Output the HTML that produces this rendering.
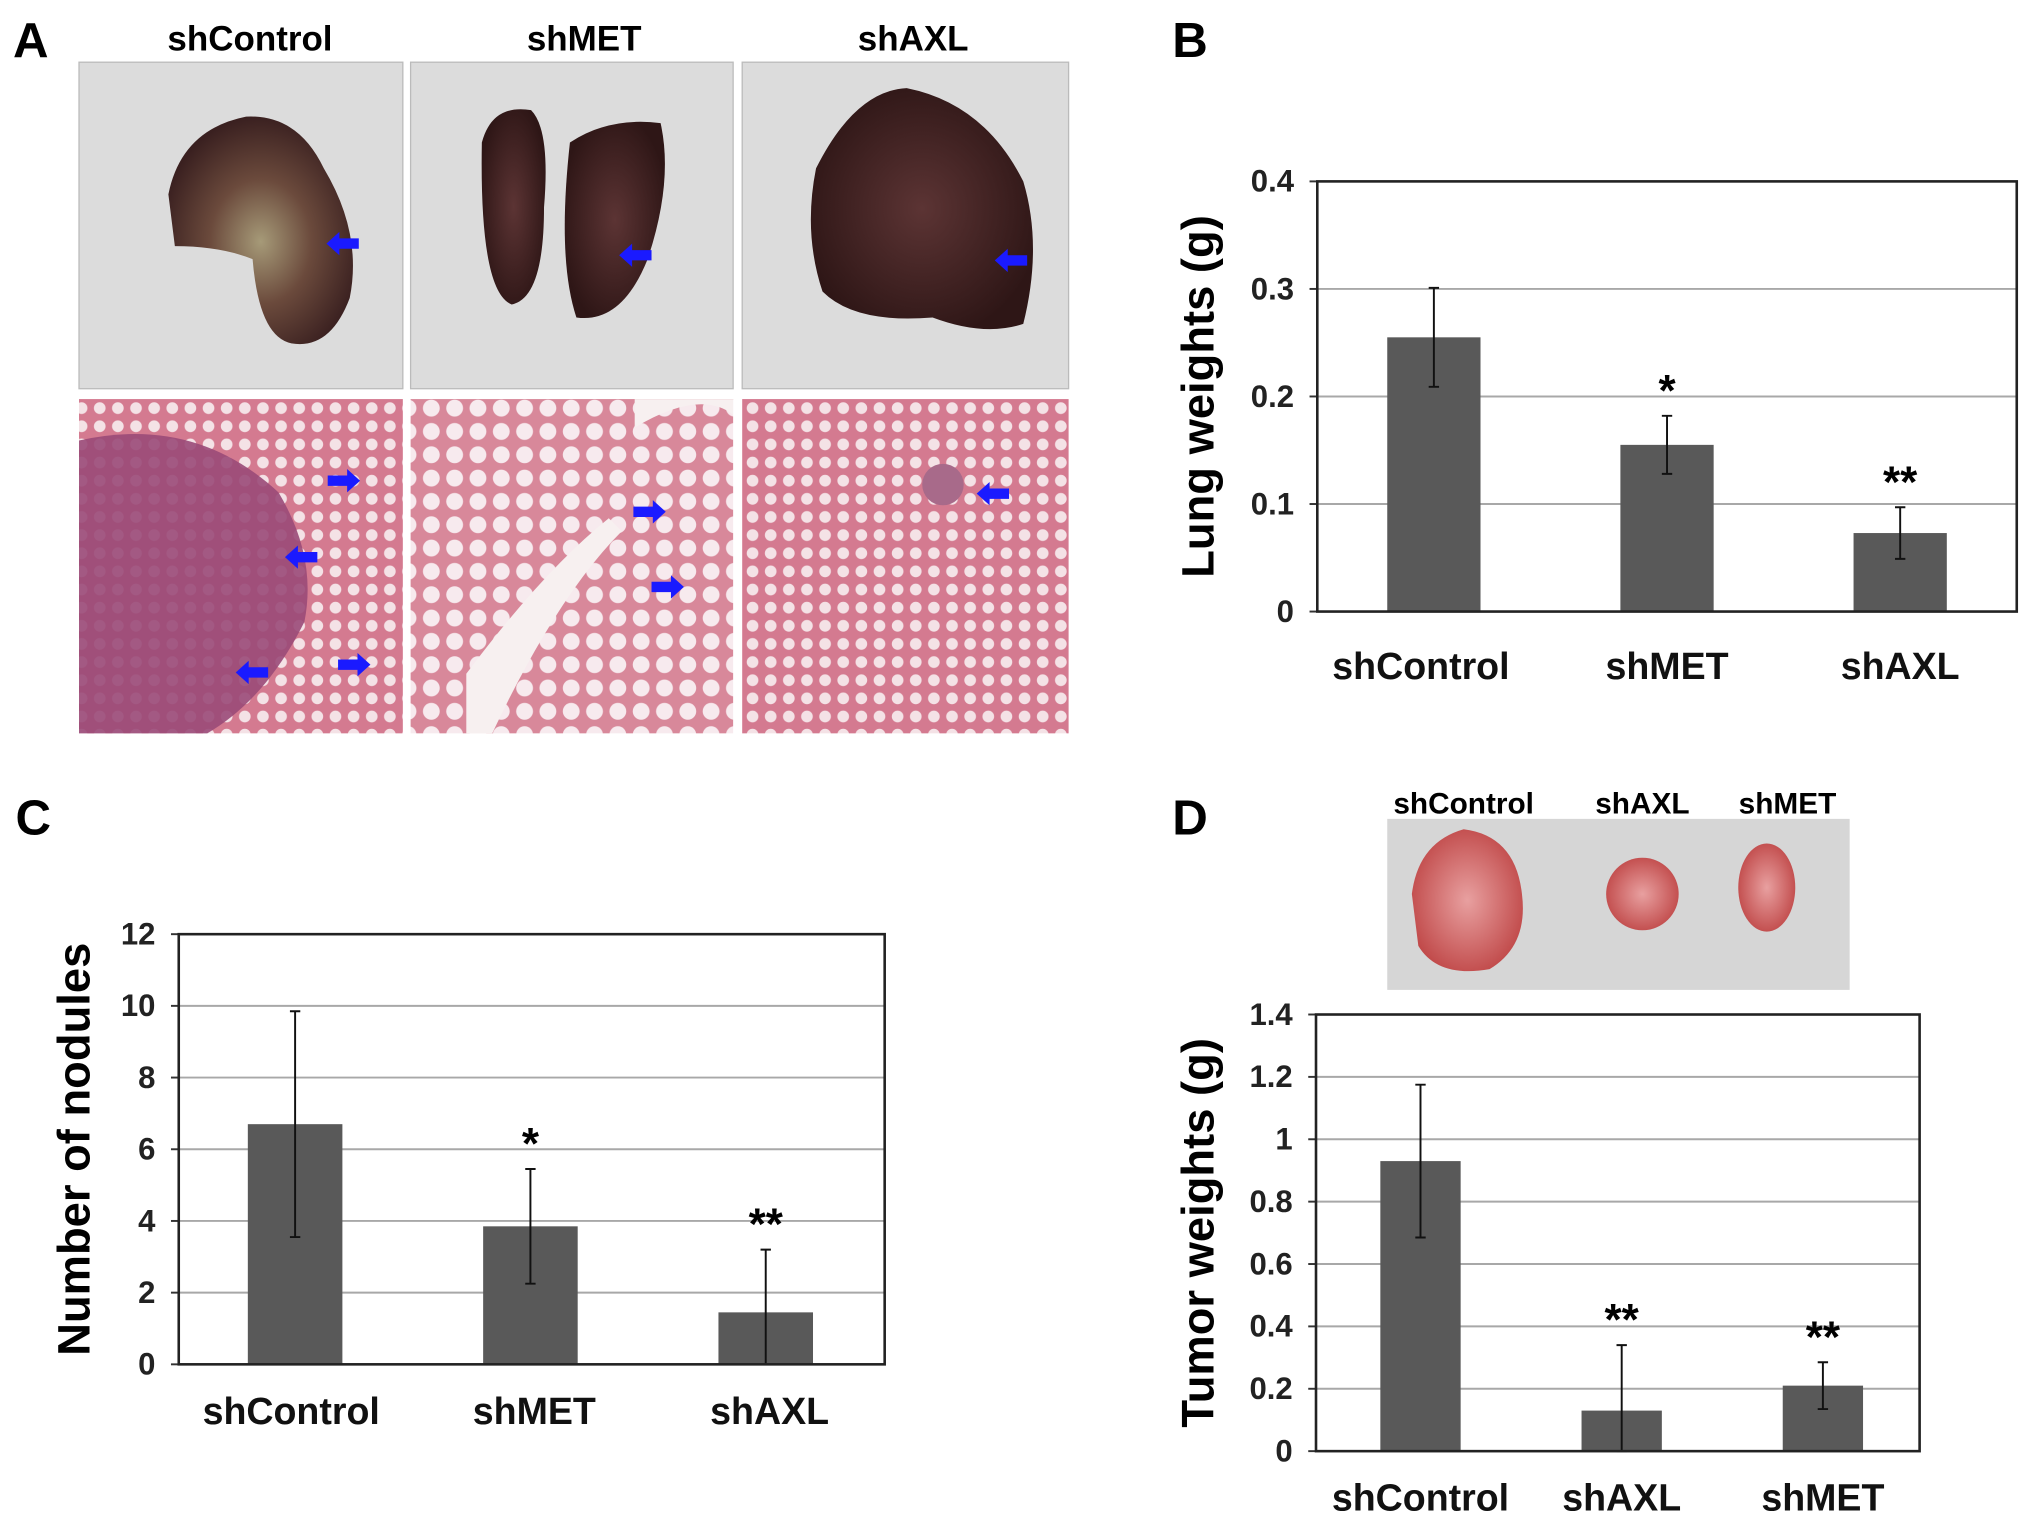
<!DOCTYPE html>
<html><head><meta charset="utf-8"><style>
html,body{margin:0;padding:0;background:#fff;}
svg{display:block;font-family:"Liberation Sans",Arial,sans-serif;}
</style></head><body>
<svg id="fig" width="2031" height="1525" viewBox="0 0 1568 1177" preserveAspectRatio="none" xmlns="http://www.w3.org/2000/svg">
<defs>
<radialGradient id="lungA" cx="50%" cy="55%" r="55%"><stop offset="0" stop-color="#a69a78"/><stop offset="0.5" stop-color="#6b4a3c"/><stop offset="1" stop-color="#3a2020"/></radialGradient>
<radialGradient id="lungB" cx="50%" cy="50%" r="55%"><stop offset="0" stop-color="#5c3434"/><stop offset="1" stop-color="#2e1616"/></radialGradient>
<radialGradient id="tum" cx="50%" cy="50%" r="55%"><stop offset="0" stop-color="#e8a0a0"/><stop offset="1" stop-color="#c04848"/></radialGradient>
<pattern id="alv" width="14" height="14" patternUnits="userSpaceOnUse"><rect width="14" height="14" fill="#d47a90"/><circle cx="7" cy="7" r="4.5" fill="#f4e2e6"/></pattern>
<pattern id="alv2" width="18" height="18" patternUnits="userSpaceOnUse"><rect width="18" height="18" fill="#d8889a"/><circle cx="9" cy="9" r="6.5" fill="#f7eaee"/></pattern>
</defs>
<g font-weight="bold">
<text x="10" y="44" font-size="38">A</text>
<text x="193" y="39" font-size="27" text-anchor="middle">shControl</text>
<text x="451" y="39" font-size="27" text-anchor="middle">shMET</text>
<text x="705" y="39" font-size="27" text-anchor="middle">shAXL</text>
<rect x="61" y="48" width="250" height="252" fill="#dcdcdc" stroke="#bbb"/>
<path d="M130 150 Q140 100 190 90 Q230 88 250 130 Q280 180 270 230 Q255 270 225 265 Q200 260 195 200 Q170 190 135 190 Z" fill="url(#lungA)"/>
<rect x="317" y="48" width="249" height="252" fill="#dcdcdc" stroke="#bbb"/>
<path d="M372 110 Q380 80 410 85 Q425 100 420 160 Q420 230 395 235 Q370 225 372 110 Z" fill="url(#lungB)"/>
<path d="M440 110 Q470 90 510 95 Q520 140 500 200 Q480 250 445 245 Q430 200 440 110 Z" fill="url(#lungB)"/>
<rect x="573" y="48" width="252" height="252" fill="#dcdcdc" stroke="#bbb"/>
<path d="M630 130 Q660 70 700 68 Q760 80 790 140 Q805 190 790 250 Q760 260 720 245 Q660 250 635 225 Q620 180 630 130 Z" fill="url(#lungB)"/>
<rect x="61" y="308" width="250" height="258" fill="url(#alv)"/>
<path d="M61 340 Q150 320 215 380 Q245 430 235 480 Q205 540 160 566 L61 566 Z" fill="#9a4a78" opacity="0.9"/>
<rect x="317" y="308" width="249" height="258" fill="url(#alv2)"/>
<path d="M490 330 Q540 300 566 320 L566 308 L490 308 Z M360 520 Q420 440 470 400 L480 410 Q430 460 380 566 L360 566 Z" fill="#f7f0f0"/>
<rect x="573" y="308" width="252" height="258" fill="url(#alv)"/>
<circle cx="728" cy="374" r="16" fill="#a86a8a"/>
<g fill="#1a1aff">
<path d="M252 188 l10 -9 v5 h15 v8 h-15 v5 z"/>
<path d="M478 197 l10 -9 v5 h15 v8 h-15 v5 z"/>
<path d="M768 201 l10 -9 v5 h15 v8 h-15 v5 z"/>
<path d="M278 371 l-10 -9 v5 h-15 v8 h15 v5 z"/>
<path d="M220 430 l10 -9 v5 h15 v8 h-15 v5 z"/>
<path d="M182 519 l10 -9 v5 h15 v8 h-15 v5 z"/>
<path d="M286 513 l-10 -9 v5 h-15 v8 h15 v5 z"/>
<path d="M514 395 l-10 -9 v5 h-15 v8 h15 v5 z"/>
<path d="M528 453 l-10 -9 v5 h-15 v8 h15 v5 z"/>
<path d="M754 381 l10 -9 v5 h15 v8 h-15 v5 z"/>
</g>
</g>
<text x="905" y="44" font-size="38" font-weight="bold">B</text>
<text x="12" y="644" font-size="38" font-weight="bold">C</text>
<text x="905" y="644" font-size="38" font-weight="bold">D</text>
<g>
<text x="1130" y="628" font-size="23" font-weight="bold" text-anchor="middle">shControl</text>
<text x="1268" y="628" font-size="23" font-weight="bold" text-anchor="middle">shAXL</text>
<text x="1380" y="628" font-size="23" font-weight="bold" text-anchor="middle">shMET</text>
<rect x="1071" y="632" width="357" height="132" fill="#d6d6d6"/>
<path d="M1090 690 Q1095 650 1130 640 Q1170 645 1175 690 Q1180 730 1150 748 Q1110 755 1095 730 Z" fill="url(#tum)"/>
<ellipse cx="1268" cy="690" rx="28" ry="28" fill="url(#tum)"/>
<ellipse cx="1364" cy="685" rx="22" ry="34" fill="url(#tum)"/>
</g>
<g id="charts"></g>
</svg>
<script>
// Panel B data
const bCats = ["shControl","shMET","shAXL"];
const bVals = [0.255,0.155,0.073];
const bErr = [0.046,0.027,0.024];
const bStars = ["","*","**"];
const bTicks = ["0","0.1","0.2","0.3","0.4"];
// Panel C data
const cCats = ["shControl","shMET","shAXL"];
const cVals = [6.7,3.85,1.45];
const cErr = [3.15,1.6,1.75];
const cStars = ["","*","**"];
const cTicks = ["0","2","4","6","8","10","12"];
// Panel D data
const dCats = ["shControl","shAXL","shMET"];
const dVals = [0.93,0.13,0.21];
const dErr = [0.245,0.21,0.075];
const dStars = ["","**","**"];
const dTicks = ["0","0.2","0.4","0.6","0.8","1","1.2","1.4"];

const NS="http://www.w3.org/2000/svg";
const root=document.getElementById('charts');
function mk(tag,attrs,parent,txt){const e=document.createElementNS(NS,tag);for(const k in attrs)e.setAttribute(k,attrs[k]);if(txt!==undefined)e.textContent=txt;parent.appendChild(e);return e;}

function chart(id,box,cats,vals,errs,stars,ticks,ylabel,cfg){
  const g=mk('g',{},root);
  
  
  const tmax=parseFloat(ticks[ticks.length-1]);
  const y=v=>box.y1-(v/tmax)*(box.y1-box.y0);
  const bw=(box.x1-box.x0)/cats.length;
  const x=i=>box.x0+bw*(i+0.5)+cfg.off;
  ticks.forEach(t=>{
    const v=parseFloat(t),yy=y(v);
    if(v>0&&v<tmax){const gl=mk('line',{x1:box.x0,x2:box.x1,y1:yy,y2:yy,stroke:'#a8a8a8','stroke-width':1.5},g);
      
      }
    const tk=mk('line',{x1:box.x0-6,x2:box.x0,y1:yy,y2:yy,stroke:'#333','stroke-width':1.5},g);
    
    
    const tl=mk('text',{x:box.x0-18,y:yy+8,'font-size':24,'font-weight':'bold','text-anchor':'end',fill:'#222'},g,t);
    
    
  });
  cats.forEach((c,i)=>{
    const cx=x(i),top=y(vals[i]);
    const b=mk('rect',{x:cx-cfg.w/2,y:top,width:cfg.w,height:box.y1-top,fill:'#595959'},g);
    
    
    const lo=Math.max(0,vals[i]-errs[i]),hi=vals[i]+errs[i];
    const e=mk('path',{d:`M${cx} ${y(lo)}V${y(hi)}M${cx-4} ${y(hi)}h8M${cx-4} ${y(lo)}h8`,stroke:'#111','stroke-width':1.5,fill:'none'},g);
    
    
    if(stars[i]){const s=mk('text',{x:cx,y:y(hi)-8,'font-size':34,'font-weight':'bold','text-anchor':'middle'},g,stars[i]);
      
      }
    const l=mk('text',{x:cx+(cfg.loff?cfg.loff[i]:0),y:box.y1+cfg.ly,'font-size':29,'font-weight':'bold','text-anchor':'middle',fill:'#111'},g,c);
    
    
  });
  const fr=mk('rect',{x:box.x0,y:box.y0,width:box.x1-box.x0,height:box.y1-box.y0,fill:'none',stroke:'#222','stroke-width':2},g);
  
  
  const cy=(box.y0+box.y1)/2;
  const yl=mk('text',{x:cfg.yx,y:cy,'font-size':35,'font-weight':'bold','text-anchor':'middle',transform:`rotate(-90 ${cfg.yx} ${cy})`},g,ylabel);
  
  
}
chart('chart-lung-weights',{x0:1017,x1:1557,y0:140,y1:472},bCats,bVals,bErr,bStars,bTicks,'Lung weights (g)',{w:72,off:0,ly:52,yx:937,loff:[-10,0,0]});
chart('chart-nodules',{x0:138,x1:683,y0:721,y1:1053},cCats,cVals,cCats.map?cErr:cErr,cStars,cTicks,'Number of nodules',{w:73,off:-1,ly:46,yx:69,loff:[-3,3,3]});
chart('chart-tumor-weights',{x0:1016,x1:1482,y0:783,y1:1120},dCats,dVals,dErr,dStars,dTicks,'Tumor  weights (g)',{w:62,off:3,ly:46,yx:937});
</script>
</body></html>
